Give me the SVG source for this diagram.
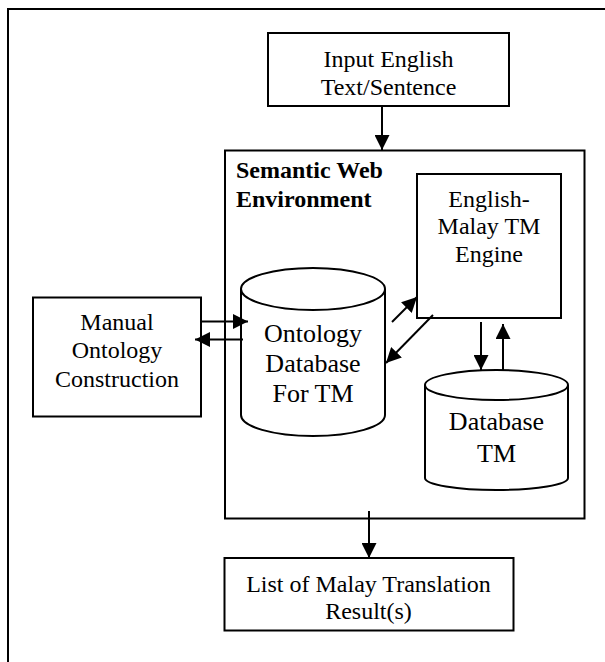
<svg xmlns="http://www.w3.org/2000/svg" width="605" height="662" viewBox="0 0 605 662">
<defs>
<style>
.box{fill:#fff;stroke:#000;stroke-width:2}
.frame{fill:none;stroke:#000;stroke-width:2}
.cyl{fill:#fff;stroke:#000;stroke-width:2}
.t{font-family:"Liberation Serif","Times New Roman",serif;font-size:24px;fill:#000;text-anchor:middle}
.tc{font-family:"Liberation Serif","Times New Roman",serif;font-size:26px;fill:#000;text-anchor:middle}
.tb{font-family:"Liberation Serif","Times New Roman",serif;font-size:24px;font-weight:bold;fill:#000}
.c{stroke:#000;stroke-width:2;fill:none;marker-end:url(#ah)}
</style>
<marker id="ah" markerUnits="userSpaceOnUse" markerWidth="15" markerHeight="15" refX="15" refY="7.5" orient="auto">
<path d="M0,0 L15,7.5 L0,15 Z" fill="#000"/>
</marker>
</defs>
<rect width="605" height="662" fill="#fff"/>
<rect class="frame" x="8" y="9" width="620" height="680"/>

<g id="input">
<rect class="box" x="268" y="33" width="241" height="73"/>
<text class="t" x="388.5" y="67">Input English</text>
<text class="t" x="388.5" y="95">Text/Sentence</text>
</g>

<g id="semantic-web">
<rect class="frame" x="225" y="150.5" width="359.5" height="368"/>
<text class="tb" x="236" y="178">Semantic Web</text>
<text class="tb" x="236" y="206.5">Environment</text>
</g>

<g id="engine">
<rect class="box" x="417" y="174" width="144" height="144"/>
<text class="t" x="489" y="206.5">English-</text>
<text class="t" x="489" y="234">Malay TM</text>
<text class="t" x="489" y="261.5">Engine</text>
</g>

<g id="ontology">
<path class="cyl" d="M241,289 L241,415 A72,21 0 0 0 385,415 L385,289"/>
<ellipse class="cyl" cx="313" cy="289" rx="72" ry="21"/>
<text class="tc" x="313" y="341.5">Ontology</text>
<text class="tc" x="313" y="371.5">Database</text>
<text class="tc" x="313" y="401.5">For TM</text>
</g>

<g id="manual">
<rect class="box" x="33" y="297.5" width="168" height="119"/>
<text class="t" x="117" y="330">Manual</text>
<text class="t" x="117" y="358">Ontology</text>
<text class="t" x="117" y="386.5">Construction</text>
</g>

<g id="database-tm">
<path class="cyl" d="M425,385 L425,478 A71.5,12 0 0 0 568,478 L568,385"/>
<ellipse class="cyl" cx="496.5" cy="385" rx="71.5" ry="15"/>
<text class="tc" x="496.5" y="430">Database</text>
<text class="tc" x="496.5" y="461.5">TM</text>
</g>

<g id="result">
<rect class="box" x="224.5" y="558" width="289" height="72.5"/>
<text class="t" x="368.5" y="591.5">List of Malay Translation</text>
<text class="t" x="368.5" y="619">Result(s)</text>
</g>

<g id="connectors">
<line class="c" x1="382" y1="106" x2="382" y2="150"/>
<line class="c" x1="201" y1="321.5" x2="248" y2="321.5"/>
<line class="c" x1="243" y1="339.5" x2="195" y2="339.5"/>
<line class="c" x1="392" y1="322" x2="417" y2="297"/>
<line class="c" x1="433" y1="315" x2="386" y2="363"/>
<line class="c" x1="481" y1="322" x2="481" y2="370"/>
<line class="c" x1="503" y1="370" x2="503" y2="324"/>
<line class="c" x1="369" y1="511" x2="369" y2="558"/>
</g>
</svg>
